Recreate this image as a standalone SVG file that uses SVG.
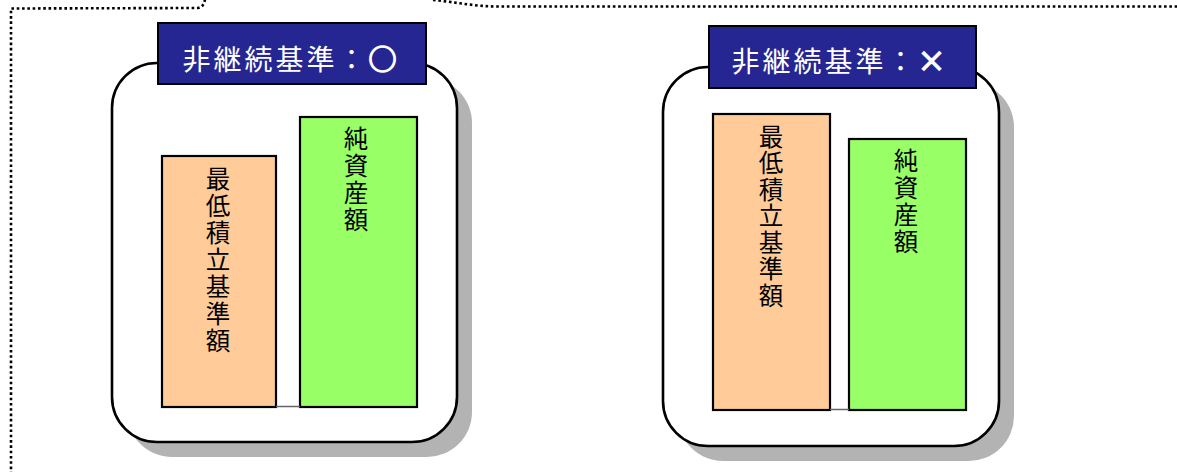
<svg xmlns="http://www.w3.org/2000/svg" width="1177" height="472" viewBox="0 0 1177 472">
<style>
.dot{fill:none;stroke:#000;stroke-width:2.6;stroke-dasharray:2.6 2.7}
.shadow{fill:#b3b3b3}
.box{fill:#fff;stroke:#000;stroke-width:2.6}
.banner{fill:#262693;stroke:#000;stroke-width:2}
.btxt{fill:#fff;font-family:"Noto Sans CJK JP","Noto Sans CJK SC",sans-serif;font-size:28px;letter-spacing:3px}
.mark{stroke:#fff;stroke-width:1.6}
.orange{fill:#ffcc99;stroke:#000;stroke-width:2.2}
.green{fill:#99ff66;stroke:#000;stroke-width:2.2}
.vt{fill:#000;font-family:"Noto Sans CJK JP","Noto Sans CJK SC",sans-serif;font-size:24.5px;writing-mode:vertical-rl;letter-spacing:2.5px}
.base{stroke:#666;stroke-width:1.5}
</style>
<g id="frame">
<path class="dot" d="M205,-1 Q204,7 198,8 L11,8.5 L11,472"/>
<path class="dot" d="M433,0 C455,2 475,6.5 498,6.5 L1177,6.5"/>
</g>
<g id="panel-left">
<rect class="shadow" x="127" y="78" width="345" height="379" rx="45"/>
<rect class="box" x="112" y="63" width="345" height="379" rx="45"/>
<rect class="banner" x="158" y="23" width="268" height="61"/>
<text class="btxt" x="291" y="70" text-anchor="middle">非継続基準：<tspan class="mark">○</tspan></text>
</g>
<g id="bar-left-min">
<rect class="orange" x="162" y="156" width="114" height="251"/>
<text class="vt" x="218" y="166">最低積立基準額</text>
</g>
<g id="bar-left-net">
<rect class="green" x="300" y="117" width="117" height="290"/>
<text class="vt" x="356" y="126">純資産額</text>
</g>
<g id="panel-right">
<rect class="shadow" x="678" y="82" width="336" height="379" rx="45"/>
<rect class="box" x="663" y="67" width="336" height="379" rx="45"/>
<rect class="banner" x="709" y="26" width="267" height="62"/>
<text class="btxt" x="840" y="72" text-anchor="middle">非継続基準：<tspan class="mark">×</tspan></text>
</g>
<g id="bar-right-min">
<rect class="orange" x="713" y="114" width="117" height="296"/>
<text class="vt" x="771" y="124" style="letter-spacing:2px">最低積立基準額</text>
</g>
<g id="bar-right-net">
<rect class="green" x="849" y="139" width="117" height="271"/>
<text class="vt" x="906" y="148">純資産額</text>
</g>
<g id="connectors">
<line class="base" x1="276" y1="406.5" x2="300" y2="406.5"/>
<line class="base" x1="830" y1="409.5" x2="849" y2="409.5"/>
</g>
</svg>
